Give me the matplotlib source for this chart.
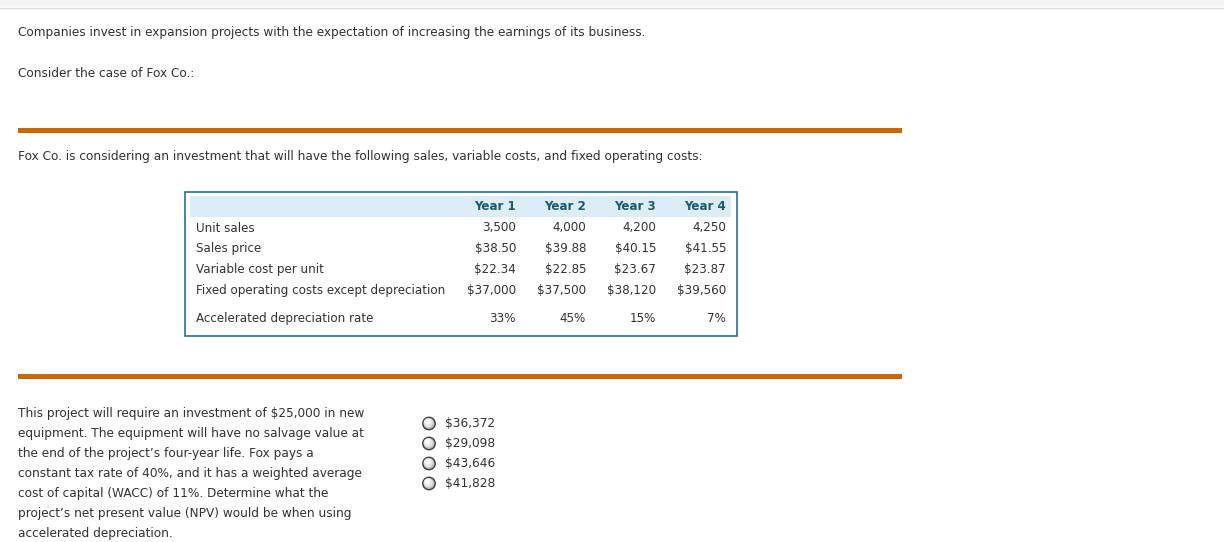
import matplotlib
matplotlib.use("Agg")
import matplotlib.pyplot as plt
from matplotlib.patches import Rectangle, Circle

# ---- data ----
intro_lines = ["Companies invest in expansion projects with the expectation of increasing the earnings of its business.",
               "Consider the case of Fox Co.:"]
table_intro = "Fox Co. is considering an investment that will have the following sales, variable costs, and fixed operating costs:"
years = ["Year 1", "Year 2", "Year 3", "Year 4"]
row_labels = ["Unit sales", "Sales price", "Variable cost per unit",
              "Fixed operating costs except depreciation", "Accelerated depreciation rate"]
unit_sales = ["3,500", "4,000", "4,200", "4,250"]
sales_price = ["$38.50", "$39.88", "$40.15", "$41.55"]
variable_cost = ["$22.34", "$22.85", "$23.67", "$23.87"]
fixed_costs = ["$37,000", "$37,500", "$38,120", "$39,560"]
depr_rate = ["33%", "45%", "15%", "7%"]
question_lines = ["This project will require an investment of $25,000 in new",
                  "equipment. The equipment will have no salvage value at",
                  "the end of the project\u2019s four-year life. Fox pays a",
                  "constant tax rate of 40%, and it has a weighted average",
                  "cost of capital (WACC) of 11%. Determine what the",
                  "project\u2019s net present value (NPV) would be when using",
                  "accelerated depreciation."]
options = ["$36,372", "$29,098", "$43,646", "$41,828"]

# ---- figure ----
fig = plt.figure(figsize=(12.24, 5.42), dpi=100)
ax = fig.add_axes([0, 0, 1, 1])
ax.set_xlim(0, 1224)
ax.set_ylim(542, 0)
ax.axis("off")
renderer = fig.canvas.get_renderer()
FAM = "DejaVu Sans"
TXT = "#333333"


def fit_size(s, target_w, weight="normal"):
    t = ax.text(0, 0, s, fontsize=10, fontweight=weight, family=FAM)
    w = t.get_window_extent(renderer).width
    t.remove()
    return 10 * target_w / w


# top strip
ax.add_patch(Rectangle((0, 0), 1224, 7, facecolor="#f4f4f4", edgecolor="none"))
ax.plot([0, 1224], [7.5, 7.5], color="#dedede", lw=1)

s_intro = fit_size(intro_lines[0], 623)
ax.text(18, 32.5, intro_lines[0], fontsize=s_intro, family=FAM, color=TXT, va="center", ha="left")
ax.text(18, 73.5, intro_lines[1], fontsize=s_intro, family=FAM, color=TXT, va="center", ha="left")

# orange bars
orange = "#cc6600"
ax.add_patch(Rectangle((18, 128), 884, 4.5, facecolor=orange, edgecolor="none"))
ax.add_patch(Rectangle((18, 374), 884, 4.5, facecolor=orange, edgecolor="none"))

s_ti = fit_size(table_intro, 684)
ax.text(18, 156.5, table_intro, fontsize=s_ti, family=FAM, color=TXT, va="center", ha="left")

# table
ax.add_patch(Rectangle((184.5, 191.5), 552, 144, facecolor="white", edgecolor="#2a6e96", lw=1.2))
ax.add_patch(Rectangle((190, 196), 541, 21, facecolor="#dcedf6", edgecolor="none"))
s_tab = fit_size(row_labels[3], 250)
col_x = [516, 586, 656, 726]
for x, y in zip(col_x, years):
    ax.text(x, 206.5, y, fontsize=s_tab, fontweight="bold", family=FAM, color="#1b5b6e",
            va="center", ha="right")
row_y = [228, 248.5, 269.5, 290.5, 318.5]
rows = [unit_sales, sales_price, variable_cost, fixed_costs, depr_rate]
for lab, vals, y in zip(row_labels, rows, row_y):
    ax.text(196, y, lab, fontsize=s_tab, family=FAM, color=TXT, va="center", ha="left")
    for x, v in zip(col_x, vals):
        ax.text(x, y, v, fontsize=s_tab, family=FAM, color=TXT, va="center", ha="right")

# question paragraph
s_q = fit_size(question_lines[0], 347)
for i, line in enumerate(question_lines):
    ax.text(18, 413.5 + 20 * i, line, fontsize=s_q, family=FAM, color=TXT, va="center", ha="left")

# radio options
for i, opt in enumerate(options):
    y = 423.5 + 20 * i
    ax.add_patch(Circle((429, y), 6.2, facecolor="#bdbdbd", edgecolor="#3c3c3c", lw=1.0))
    ax.add_patch(Circle((428.3, y - 0.8), 4.6, facecolor="#e6e6e6", edgecolor="none"))
    ax.add_patch(Circle((427.5, y - 1.8), 2.8, facecolor="#fbfbfb", edgecolor="none"))
    ax.text(445, y, opt, fontsize=s_q, family=FAM, color=TXT, va="center", ha="left")

fig.savefig("out.png", dpi=100, facecolor="white")
